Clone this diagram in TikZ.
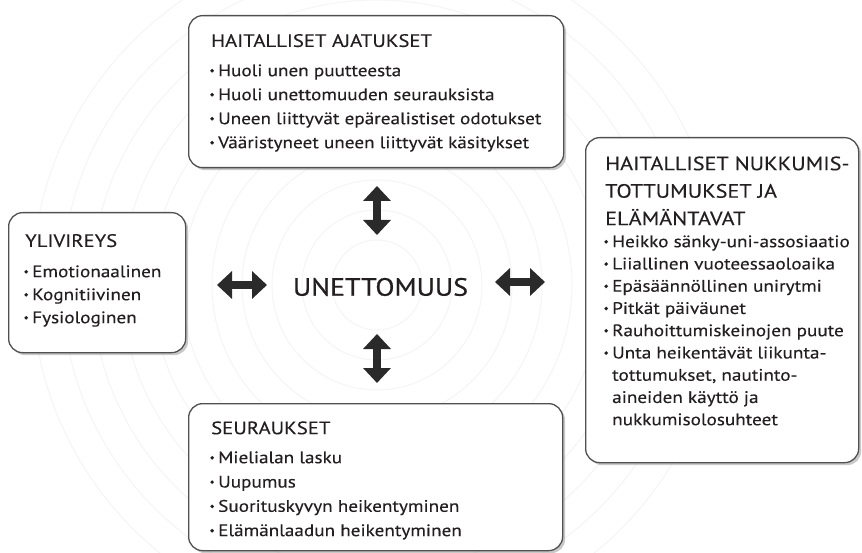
\documentclass[tikz,border=0pt]{standalone}
\usepackage{fontspec}
\usepackage{graphicx}
\setmainfont{PT Sans}[FakeStretch=1.15, FakeBold=0.2]
\newfontfamily\medfont{PT Sans}[FakeStretch=1.12, FakeBold=0.6]
\usetikzlibrary{arrows.meta,shadows}
\definecolor{txt}{HTML}{231F20}
\definecolor{edge}{HTML}{505050}
\definecolor{arr}{HTML}{2A2A2A}
\newcommand\bu{\makebox[8pt][l]{\tikz[baseline=0pt,x=1pt,y=1pt]\fill[txt] (2,5.4) circle[radius=1.95];}}
\newcommand\ind{\hspace*{8pt}}
\newcommand\fs[2]{\fontsize{#1}{#2}\selectfont}
\begin{document}
\begin{tikzpicture}[x=1pt,y=-1pt,
 box/.style={draw=edge, line width=1.3pt, rounded corners=14pt, fill=white, anchor=north west, inner sep=0pt,
   drop shadow={shadow xshift=2.5pt, shadow yshift=-2.5pt, opacity=0.35, fill=black!60}},
 head/.style={anchor=north west, inner sep=0pt, align=left, text=txt, font=\fs{18}{27.5}},
 body/.style={anchor=north west, inner sep=0pt, align=left, text=txt},
 bigarr/.style={draw=arr, line width=7.5pt, {Triangle[width=27pt,length=15pt]}-{Triangle[width=27pt,length=15pt]}},
 ring/.style={draw=black!4, line width=1pt}]
\useasboundingbox (0,0) rectangle (862,553);
\fill[white] (0,0) rectangle (862,553);
\begin{scope}
\clip (0,0) rectangle (862,553);
\foreach \r in {45,75,...,345} \draw[ring] (377,285) circle[radius=\r];
\end{scope}
% boxes
\node[box, minimum width=375pt, minimum height=152pt] (top) at (188,15) {};
\node[box, minimum width=177pt, minimum height=140pt] (left) at (8,212) {};
\node[box, minimum width=273pt, minimum height=325pt] (right) at (585,137) {};
\node[box, minimum width=374pt, minimum height=147pt] (bottom) at (188,403) {};
% top
\node[head] (th) at (211,30.7) {\rule{0pt}{16pt}HAITALLISET AJATUKSET};
\node[body, font=\fs{16.7}{24}] (tb) at (210,60) {\rule{0pt}{16pt}\bu Huoli unen puutteesta\\
 \bu Huoli unettomuuden seurauksista\\
 \bu Uneen liittyvät epärealistiset odotukset\\
 \bu Vääristyneet uneen liittyvät käsitykset};
% left
\node[head] (lh) at (25,230.7) {\rule{0pt}{16pt}YLIVIREYS};
\node[body, font=\fs{16.7}{23}] (lb) at (24,261) {\rule{0pt}{16pt}\bu Emotionaalinen\\
 \bu Kognitiivinen\\
 \bu Fysiologinen};
% right
\node[head, font=\fs{19.3}{27.5}] (rh) at (605,154) {\rule{0pt}{16pt}HAITALLISET NUKKUMIS-\\
 TOTTUMUKSET JA\\
 ELÄMÄNTAVAT};
\node[body, font=\fs{16.7}{22.25}] (rb) at (604,231) {\rule{0pt}{16pt}\bu Heikko sänky-uni-assosiaatio\\
 \bu Liiallinen vuoteessaoloaika\\
 \bu Epäsäännöllinen unirytmi\\
 \bu Pitkät päiväunet\\
 \bu Rauhoittumiskeinojen puute\\
 \bu Unta heikentävät liikunta-\\
 \ind tottumukset, nautinto-\\
 \ind aineiden käyttö ja\\
 \ind nukkumisolosuhteet};
% bottom
\node[head] (bh) at (211,418) {\rule{0pt}{16pt}SEURAUKSET};
\node[body, font=\fs{16.7}{24.3}] (bb) at (210,447) {\rule{0pt}{16pt}\bu Mielialan lasku\\
 \bu Uupumus\\
 \bu Suorituskyvyn heikentyminen\\
 \bu Elämänlaadun heikentyminen};
% centre
\node[text=txt, inner sep=0pt, font=\medfont\fs{25}{30}] (c) at (380.5,287) {UNETTOMUUS};
% arrows
\coordinate (ta1) at (377,186); \coordinate (ta2) at (377,235);
\coordinate (ba1) at (377,334); \coordinate (ba2) at (377,383);
\coordinate (la1) at (217,285); \coordinate (la2) at (267,285);
\coordinate (ra1) at (495,282); \coordinate (ra2) at (545,282);
\draw[bigarr] (ta1) -- (ta2);
\draw[bigarr] (ba1) -- (ba2);
\draw[bigarr] (la1) -- (la2);
\draw[bigarr] (ra1) -- (ra2);
\end{tikzpicture}
\end{document}
